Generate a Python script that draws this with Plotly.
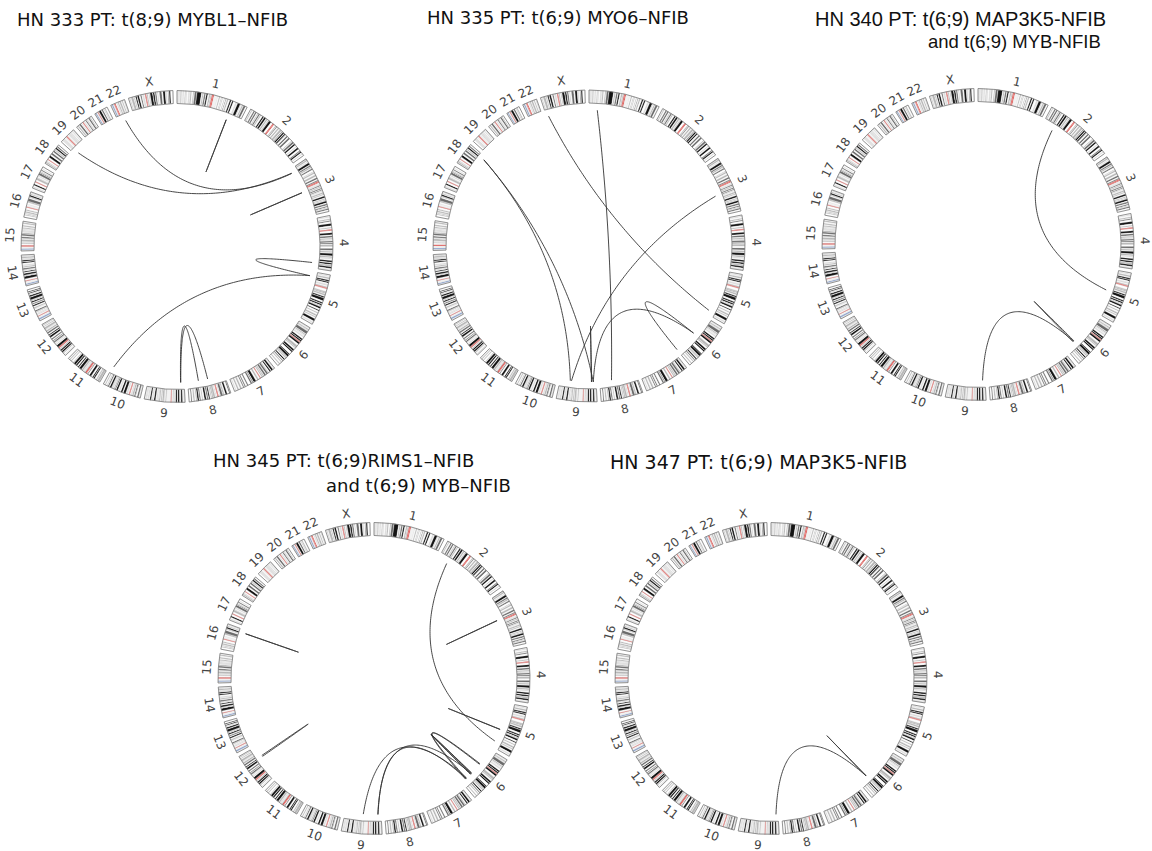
import math
import plotly.graph_objects as go

W, H = 1152, 851

# ---------------- data ----------------
CHROMS = [str(i) for i in range(1, 23)] + ["X"]
CHROM_LEN = [249.25, 243.2, 198.0, 191.2, 180.9, 171.1, 159.1, 146.4, 141.2, 135.5,
             135.0, 133.9, 115.2, 107.3, 102.5, 90.4, 81.2, 78.1, 59.1, 63.0, 48.1, 51.3, 155.3]

# cytoband approximations: "<end Mb><stain>"  n=gneg l=gpos25 m=gpos50 d=gpos75 b=gpos100 c=acen v=gvar s=stalk
CHR1 = "2.3n 5.3l 7.2n 9.2l 12.7n 16.2m 20.4n 23.9l 28n 30.2m 32.4n 34.6l 40.1n 44.1l 46.8n 50.7m 56.1n 59m 61.3n 68.9d 69.7n 84.9b 88.4n 92m 94.7n 99.7d 102.2n 107.2b 111.8n 116.1m 117.8n 120.6m 121.5n 125c 128.9c 142.6v 147n 150.3m 155n 156.5m 159.1n 160.5m 165.5n 167.2m 170.9n 172.9d 176n 180.3m 185.8n 190.8b 193.8n 198.7b 207.2n 211.5l 214.5n 224.1b 224.6n 227l 230.7n 234.7m 236.6n 243.7d 249.25n"
CHR2 = "4.4n 7.1m 12.2n 16.7d 19.2n 24d 27.9n 30m 32.1n 36.6d 38.6n 41.8m 47.8n 52.9b 55n 61.3b 64.1n 68.6m 71.5n 73.5m 75n 83.3b 90.5n 93.3c 96.8c 102.7n 106m 107.5n 110.2d 114.4n 118.8m 122.4n 129.9m 132.5n 135.1d 136.8n 142.2b 144.1n 148.7b 149.9n 150.5m 154.9n 159.8d 163.7n 169.7d 178n 180.6m 183n 189.4d 191.9n 197.4b 203.3n 204.9m 209n 215.3b 221.5n 225.2d 226.1n 231b 235.6n 237.3m 243.2n"
CHR3 = "2.8m 4n 8.7m 11.8n 13.3l 16.4n 23.9b 26.4n 30.9d 32.1n 36.5m 39.4n 43.7d 50.6n 52.3m 54.4n 58.6m 63.7n 69.8m 74.2n 79.8d 83.5n 87.2d 87.9n 91c 93.9c 98.3v 100n 100.9l 102.8n 106.2d 107.9n 111.3m 113.5n 117.3d 119n 121.9d 123.8n 125.8l 129.2n 133.7m 135.7n 138.7m 142.8n 148.9b 152.1n 155m 157n 159m 160.7n 167.6b 170.9n 175.7d 179n 182.7d 184.5n 186m 187.9n 192.3d 198n"
CHR4 = "4.5n 6l 11.3n 15.2m 17.8n 21.3d 27.7n 35.8b 41.2n 44.6m 48.2n 50.4c 52.7c 59.5n 66.6b 70.5n 76.3d 78.9n 82.4m 84.1n 86.9l 88n 93.7d 95.1n 98.8d 101.1n 107.7m 114.1n 120.8d 123.8n 128.8m 131.1n 139.5b 141.5n 146.8m 148.5n 151.1l 155.6n 161.8b 164.5n 170.1b 171.9n 176.3m 177.5n 183.2b 187.1n 191.2l"
CHR5 = "4.5n 6.3l 9.8n 15m 18.4n 23.3b 24.6n 28.9b 33.8n 38.4l 42.5n 46.1m 48.4c 50.7c 58.9n 62.9m 63.2n 66.7m 68.4n 73.3m 76.9n 81.4b 82.8n 92.3b 98.2n 102.8b 104.5n 109.6b 111.5n 113.1m 115.2n 121.4b 127.3n 130.6b 136.2n 139.5m 144.5n 149.8m 152.7n 155.7m 159.9n 168.5b 172.8n 176.6l 180.9n"
CHR6 = "2.3n 4.2l 7.1n 10.6m 11.6n 13.4l 15.2n 25.2d 27n 30.4m 32.1n 33.5l 36.6n 40.5l 46.2n 51.8b 52.9n 57.6b 58.5n 59.8c 62.6c 62.7n 69.2b 75.2n 83.2m 84.2n 87.3m 92.5n 98.9b 100n 105b 114.6n 118.3b 118.5n 126.1b 127.1n 130m 130.9n 134.7m 138.3n 142.8b 145.6n 149d 152.5n 155.5m 161n 164.5m 171.1n"
CHR7 = "2.8n 4.5l 7.2n 13.8b 16.5n 20.9b 25.5n 28m 28.8n 35d 37.2n 43.3d 45.4n 49m 50.5n 54m 58n 59.9c 61.7c 67n 72.2m 77.5n 86.4b 88.2n 91.1d 92.8n 98d 107.4n 111.6d 117.4n 121.1d 123.8n 127.1d 132.6n 138.2m 143.1n 147.9m 152.6n 155.1l 159.1n"
CHR8 = "2.2n 6.2d 12.7n 19b 23.3n 27.4m 28.8n 36.5d 38.3n 39.7l 43.1n 45.6c 48.1c 52.2n 52.6d 55.5n 61.6m 62.2n 66m 68n 70.5m 73.9n 78.3b 80.1n 84.6d 86.9n 93.3b 99n 101.6m 106.2n 110.5d 112.1n 117.7b 119.2n 122.5m 127.3n 131.5m 136.4n 139.9d 146.4n"
CHR9 = "2.2n 4.6l 9n 14.2b 16.6n 18.5l 19.9n 25.6b 28n 33.2b 36.3n 38.4l 41n 43.6m 47.3n 49c 50.7c 65.9v 68.7m 72.2n 74l 79.2m 81.1n 84.1m 86.9n 90.4m 91.8n 93.9l 96.6n 99.3l 102.6n 108.2b 111.3n 114.9l 117.7n 122.5b 125.8n 130.3l 133.5n 134l 135.9n 137.4l 141.2n"
CHR10 = "3n 3.8l 6.6n 12.2d 17.3n 18.6d 18.7n 22.6d 24.6n 29.6m 31.3n 34.4l 38n 40.2c 42.3c 46.1n 49.9l 52.9n 61.2b 64.5n 70.6b 74.9n 77.7l 82n 87.9b 89.5n 92.9d 94.1n 97m 99.3n 101.9l 103n 104.9l 105.8n 111.9b 114.9n 119.1d 121.7n 123.1m 127.5n 130.6m 135.5n"
CHR11 = "2.8n 10.7m 12.7n 16.2m 21.7n 26.1b 27.2n 31b 36.4n 43.5b 48.8n 51.6d 53.7n 55.7c 59.9c 61.7d 61.8n 63.6l 66.1n 68.7l 70.5n 75.5m 77.4n 85.9b 88.5n 92.5b 96.5n 101.5b 102.9n 110.4b 112.5n 114.5m 121.2n 123.9m 127.8n 130.8m 135n"
CHR12 = "3.3n 5.4l 10.1n 12.8m 14.8n 20b 21.3n 26.5b 27.8n 30.7m 33.3n 35.8c 38.2c 46.4b 49.1n 51.5l 54.9n 56.6l 58.1n 63.1d 65.1n 67.7d 71.5n 75.7d 80.3n 86.7b 89n 92.6b 96.2n 101.6d 103.8n 109m 111.7n 112.3m 114.3n 120.6m 123.6n 125.9m 129.3n 131.5m 133.9n"
CHR13 = "4.5v 10s 16.3v 17.9c 19.5c 23.3n 25.5l 27.8n 28.9l 32.2n 34m 35.5n 40.1d 45.2n 45.8l 47.3n 50.9m 55.3n 59.6b 62.3n 65.7d 68.6n 73.3b 75.4n 77.2m 79n 87.7b 90n 95b 98.1n 99.6l 101.1n 104.2b 106.4n 109.6b 115.2n"
CHR14 = "3.7v 8.1s 16v 17.6c 19.1c 24.6n 33.3b 35.3n 36.6m 37.8n 43.5b 47.2n 50.9b 54.1n 55.5l 56.9n 61.6d 64.3n 67.9m 70.2n 73.8l 79.3n 83.6b 84.9n 89.8b 91.4n 94.3l 96.3n 101.4m 103.2n 104m 107.3n"
CHR15 = "3.9v 8.7s 15.8v 19c 20.7c 25.7n 28.1m 30.3n 31.2l 33.6n 40.1m 42.8n 43.6l 44.8n 49.5d 52.9n 59.1d 59.3n 63.7m 67.2n 67.3l 67.5n 72.7l 75.2n 76.6l 78.3n 81.7m 85.2n 89.1m 94.3n 98.5m 102.5n"
CHR16 = "7.9n 10.5m 12.6n 14.8m 16.8n 21.2m 24.2n 28.1m 34.6n 36.8c 38.4c 47v 52.6n 56.7m 57.4n 66.7d 70.8n 72.9m 74.1n 79.2b 81.7n 84.2m 87.1n 88.7l 90.4n"
CHR17 = "3.3n 6.5l 10.7n 16b 22.2n 24c 25.8c 31.8n 38.1m 38.4n 40.9l 44.9n 47.4l 50.2n 57.6d 58.3n 61.1d 62.6n 64.2m 67.1n 70.9d 74.8n 75.3l 81.2n"
CHR18 = "2.9n 7.1m 8.5n 10.9l 15.4n 17.2c 19c 25n 32.7b 37.2n 43.5d 48.2n 53.8d 56.2n 59m 61.6n 66.8b 68.7n 73.1d 78.1n"
CHR19 = "6.9n 13.9l 14n 16.3l 20n 24.4v 26.5c 28.6c 32.4v 35.5n 38.3l 38.7n 43.4l 45.2n 48l 51.4n 53.6l 56.3n 59.1l"
CHR20 = "5.1n 9.2m 12.1n 17.9d 21.3n 22.3l 25.6n 27.5c 29.4c 32.1n 34.4l 37.6n 41.7d 42.1n 46.4l 49.8n 55d 56.5n 58.4m 63n"
CHR21 = "2.8v 6.8s 10.9v 13.2c 14.3c 16.4n 24b 26.8n 31.5d 35.3n 36.4m 38.3n 41.6m 48.1n"
CHR22 = "3.8v 8.3s 12.2v 14.7c 17.9c 22.2n 23.5l 25.9n 29.6m 32.2n 37.6m 41n 44.2m 48.4n 49.4m 51.3n"
CHRX = "4.3n 6m 9.5n 17.1m 19.3n 21.9m 24.9n 29.3b 31.5n 37.6b 42.4n 46.4d 49.8n 54.8l 58.1n 60.6c 63c 64.6n 67.8m 71.8n 73.9m 76n 84.6b 86.2n 91.8b 93.5n 98.3d 102.6n 103.7m 108.7n 116.5d 120.9n 128.7b 130.4n 133.6l 138n 140.3d 142.1n 147.1b 155.3n"
BANDS = [CHR1, CHR2, CHR3, CHR4, CHR5, CHR6, CHR7, CHR8, CHR9, CHR10, CHR11, CHR12,
         CHR13, CHR14, CHR15, CHR16, CHR17, CHR18, CHR19, CHR20, CHR21, CHR22, CHRX]

TITLES = [
    ["HN 333 PT: t(8;9) MYBL1–NFIB"],
    ["HN 335 PT: t(6;9) MYO6–NFIB"],
    ["HN 340 PT: t(6;9) MAP3K5-NFIB", "and t(6;9) MYB-NFIB"],
    ["HN 345 PT: t(6;9)RIMS1–NFIB", "and t(6;9) MYB–NFIB"],
    ["HN 347 PT: t(6;9) MAP3K5-NFIB"],
]

# links: (chrA, Mb, chrB, Mb)
LINKS_HN333 = [("22", 28, "3", 16), ("19", 13, "3", 15), ("1", 197.7, "1", 198.3), ("3", 101.7, "3", 102.3),
               ("4", 170, "5", 17.6), ("10", 131, "5", 17), ("9", 14, "8", 104), ("9", 13, "8", 67)]
LINKS_HN335 = [("X", 8, "5", 165), ("1", 32.6, "8", 99.5), ("18", 66, "9", 101.6), ("18", 66.5, "9", 11),
               ("3", 118.6, "9", 97), ("9", 17.7, "9", 18.3), ("6", 78, "9", 11), ("6", 78.5, "6", 170)]
LINKS_HN340 = [("2", 44.6, "5", 84), ("6", 130, "9", 10), ("6", 128, "6", 133)]
LINKS_HN345 = [("2", 38, "5", 157), ("3", 83.7, "3", 84.3), ("16", 77.7, "16", 78.3), ("12", 88, "12", 92.5),
               ("5", 106.7, "5", 107.3), ("6", 69, "6", 152), ("6", 72, "6", 148), ("6", 118, "6", 125),
               ("6", 119, "6", 123), ("9", 70, "6", 146), ("9", 12, "6", 150), ("9", 13, "6", 121)]
LINKS_HN347 = [("6", 133, "9", 8.4), ("6", 132.7, "6", 133.3)]
LINKS = [LINKS_HN333, LINKS_HN335, LINKS_HN340, LINKS_HN345, LINKS_HN347]

# ---------------- layout / style ----------------
CENTERS = [(177, 246.5), (589, 246), (978, 244.5), (374, 678.5), (771, 678.5)]
TITLE_POS = [[(15, 20)], [(425, 18)], [(813, 19), (926, 42)], [(211, 460), (324, 485)], [(608, 462)]]
TITLE_FONT = [[("DejaVu Sans", 18)], [("DejaVu Sans", 18)],
              [("Liberation Sans", 20), ("Liberation Sans", 18.5)],
              [("DejaVu Sans", 18), ("DejaVu Sans", 18)], [("DejaVu Sans", 19)]]
R_DOM = 158
R_OUT, R_IN = 156, 143
R_LINK = 136
R_CTRL = 24
R_LABEL = 167
GAP = 1.5
STAIN = {"n": "#ffffff", "l": "#e2e2e2", "m": "#b8b8b8", "d": "#6a6a6a", "b": "#141414",
         "c": "#e8403c", "v": "#f2f2f2", "s": "#8ea6d2"}

SCALE = (360 - GAP * len(CHROMS)) / sum(CHROM_LEN)
START = {}
acc = 0.0
for i, c in enumerate(CHROMS):
    START[c] = acc * SCALE + i * GAP
    acc += CHROM_LEN[i]


def ang(c, pos):
    return START[c] + pos * SCALE


def parse(s):
    out, prev = [], 0.0
    for tok in s.split():
        end = float(tok[:-1])
        out.append((prev, end, tok[-1]))
        prev = end
    return out


band_theta, band_width, band_color = [], [], []
for i, c in enumerate(CHROMS):
    for a, b, code in parse(BANDS[i]):
        b = min(b, CHROM_LEN[i])
        if b <= a:
            continue
        band_theta.append(ang(c, (a + b) / 2))
        band_width.append((b - a) * SCALE)
        band_color.append(STAIN[code])
chr_theta = [ang(c, CHROM_LEN[i] / 2) for i, c in enumerate(CHROMS)]
chr_width = [CHROM_LEN[i] * SCALE for i in range(len(CHROMS))]


def bezier(c1, p1, c2, p2, n=90):
    a1, a2 = math.radians(ang(c1, p1)), math.radians(ang(c2, p2))
    x0, y0 = R_LINK * math.sin(a1), R_LINK * math.cos(a1)
    x2, y2 = R_LINK * math.sin(a2), R_LINK * math.cos(a2)
    sx, sy = math.sin(a1) + math.sin(a2), math.cos(a1) + math.cos(a2)
    nrm = math.hypot(sx, sy)
    cx, cy = (0.0, 0.0) if nrm < 1e-6 else (R_CTRL * sx / nrm, R_CTRL * sy / nrm)
    rs, ts = [], []
    for k in range(n + 1):
        t = k / n
        x = (1 - t) ** 2 * x0 + 2 * (1 - t) * t * cx + t ** 2 * x2
        y = (1 - t) ** 2 * y0 + 2 * (1 - t) * t * cy + t ** 2 * y2
        rs.append(math.hypot(x, y))
        ts.append(math.degrees(math.atan2(x, y)))
    return rs, ts


fig = go.Figure()
annotations = []
layout_polars = {}
for k, (pcx, pcy) in enumerate(CENTERS):
    pid = "polar" if k == 0 else f"polar{k + 1}"
    layout_polars[pid] = dict(
        domain=dict(x=[(pcx - R_DOM) / W, (pcx + R_DOM) / W],
                    y=[1 - (pcy + R_DOM) / H, 1 - (pcy - R_DOM) / H]),
        bgcolor="rgba(0,0,0,0)", hole=0,
        angularaxis=dict(visible=False, rotation=90, direction="clockwise", showgrid=False),
        radialaxis=dict(visible=False, range=[0, R_DOM], showgrid=False),
    )
    fig.add_trace(go.Barpolar(
        subplot=pid, theta=band_theta, width=band_width, r=[R_OUT - R_IN] * len(band_theta),
        base=R_IN, marker=dict(color=band_color, line=dict(color="#d6d6d6", width=0.25)),
        hoverinfo="skip", showlegend=False))
    fig.add_trace(go.Barpolar(
        subplot=pid, theta=chr_theta, width=chr_width, r=[R_OUT - R_IN] * len(chr_theta),
        base=R_IN, marker=dict(color="rgba(0,0,0,0)", line=dict(color="#7a7a7a", width=0.8)),
        hoverinfo="skip", showlegend=False))
    rr, tt = [], []
    for (c1, p1, c2, p2) in LINKS[k]:
        r, t = bezier(c1, p1, c2, p2)
        rr += r + [None]
        tt += t + [None]
    fig.add_trace(go.Scatterpolar(
        subplot=pid, r=rr, theta=tt, mode="lines", line=dict(color="#333333", width=0.9),
        hoverinfo="skip", showlegend=False, connectgaps=False))
    # chromosome labels
    for i, c in enumerate(CHROMS):
        th = chr_theta[i]
        px = pcx + R_LABEL * math.sin(math.radians(th))
        py = pcy - R_LABEL * math.cos(math.radians(th))
        rot = th if (th <= 90 or th >= 270) else th - 180
        annotations.append(dict(x=px / W, y=1 - py / H, xref="paper", yref="paper",
                                text=c, showarrow=False, textangle=rot,
                                xanchor="center", yanchor="middle",
                                font=dict(family="DejaVu Sans", size=12, color="#444444")))
    # titles
    for j, line in enumerate(TITLES[k]):
        tx, ty = TITLE_POS[k][j]
        fam, size = TITLE_FONT[k][j]
        annotations.append(dict(x=tx / W, y=1 - ty / H, xref="paper", yref="paper",
                                text=line, showarrow=False, xanchor="left", yanchor="middle",
                                font=dict(family=fam, size=size, color="#111111")))

fig.update_layout(width=W, height=H, margin=dict(l=0, r=0, t=0, b=0),
                  paper_bgcolor="white", plot_bgcolor="white",
                  annotations=annotations, showlegend=False, **layout_polars)

fig.write_html("out.html", config={"displayModeBar": False},
               post_script="document.body.style.margin='0px';document.body.style.overflow='hidden';")
